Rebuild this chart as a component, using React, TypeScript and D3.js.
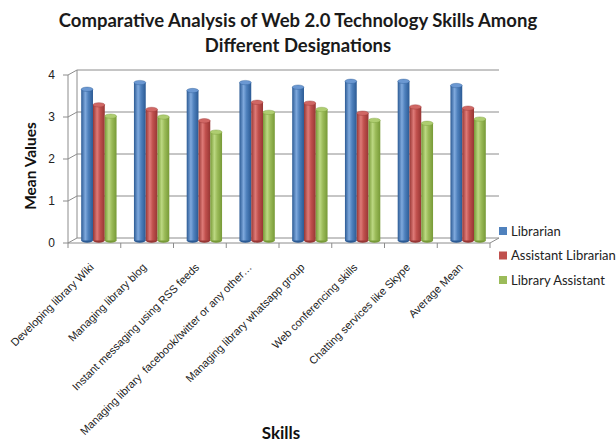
import React from 'react';
import * as d3 from 'd3';

const skills = [
  'Developing library Wiki',
  'Managing library blog',
  'Instant messaging using RSS feeds',
  'Managing library  facebook/twitter or any other…',
  'Managing library whatsapp group',
  'Web conferencing skills',
  'Chatting services like Skype',
  'Average Mean',
];
const seriesNames = ['Librarian', 'Assistant Librarian', 'Library Assistant'];
const librarian = [3.6, 3.76, 3.57, 3.76, 3.65, 3.79, 3.79, 3.69];
const assistantLibrarian = [3.23, 3.12, 2.85, 3.29, 3.27, 3.03, 3.18, 3.15];
const libraryAssistant = [2.96, 2.94, 2.58, 3.05, 3.12, 2.86, 2.79, 2.89];
const yTicks = [0, 1, 2, 3, 4];

const values = [librarian, assistantLibrarian, libraryAssistant];
// base, dark edge, light highlight, top
const palettes = [
  { id: 'gBlue', base: '#4F81BD', dark: '#2b5a94', light: '#7fa9dd', top: '#6b98d2' },
  { id: 'gRed', base: '#C0504D', dark: '#973634', light: '#de7a77', top: '#d06764' },
  { id: 'gGreen', base: '#9BBB59', dark: '#779a37', light: '#bcd882', top: '#aecd70' },
];

const W = 616;
const H = 445;
const x0 = 68;
const x1 = 490;
const yBase = 243;
const yTop = 75;
const dx = 9;
const dy = -5;
const font = 'Lato, "Open Sans", sans-serif';
const axisFont = '"Liberation Sans", Arial, sans-serif';

const App: React.FC = () => {
  const x = d3.scaleBand<string>().domain(skills).range([x0, x1]).paddingInner(0.33).paddingOuter(0.165);
  const xs = d3.scaleBand<number>().domain([0, 1, 2]).range([0, x.bandwidth()]);
  const y = d3.scaleLinear().domain([0, 4]).range([yBase, yTop]);
  const step = (x1 - x0) / skills.length;
  const bw = xs.bandwidth();
  const ry = 2.2;

  return (
    <div style={{ position: 'absolute', left: 0, top: 0 }}>
      <svg width={W} height={H} style={{ display: 'block', background: '#fff' }}>
        <defs>
          {palettes.map((p) => (
            <linearGradient key={p.id} id={p.id} x1="0" x2="1" y1="0" y2="0">
              <stop offset="0" stopColor={p.dark} />
              <stop offset="0.35" stopColor={p.light} />
              <stop offset="0.6" stopColor={p.base} />
              <stop offset="1" stopColor={p.dark} />
            </linearGradient>
          ))}
        </defs>

        {/* title */}
        <text x={298} y={27} textAnchor="middle" fontFamily={font} fontWeight="bold" fontSize={18.5} fill="#1a1a1a">
          Comparative Analysis of Web 2.0 Technology Skills Among
        </text>
        <text x={298} y={52} textAnchor="middle" fontFamily={font} fontWeight="bold" fontSize={18.5} fill="#1a1a1a">
          Different Designations
        </text>

        {/* back wall gridlines and left wall */}
        {yTicks.map((t) => (
          <g key={t} stroke="#8c8c8c" strokeWidth={1} fill="none">
            <line x1={x0 + dx} x2={x1 + dx} y1={y(t) + dy} y2={y(t) + dy} />
            <line x1={x0} x2={x0 + dx} y1={y(t)} y2={y(t) + dy} />
            <line x1={x0 - 5} x2={x0} y1={y(t)} y2={y(t)} />
          </g>
        ))}
        <line x1={x0 + dx} x2={x0 + dx} y1={y(0) + dy} y2={y(4) + dy} stroke="#8c8c8c" />
        <line x1={x0} x2={x0} y1={y(0)} y2={y(4)} stroke="#8c8c8c" />
        {/* floor */}
        <line x1={x0} x2={x1} y1={yBase} y2={yBase} stroke="#8c8c8c" />
        <line x1={x1} x2={x1 + dx} y1={yBase} y2={yBase + dy} stroke="#8c8c8c" />
        {d3.range(skills.length + 1).map((i) => (
          <line key={i} x1={x0 + i * step} x2={x0 + i * step} y1={yBase} y2={yBase + 5} stroke="#8c8c8c" />
        ))}

        {/* y tick labels */}
        {yTicks.map((t) => (
          <text key={t} x={55} y={y(t) + 4} textAnchor="end" fontFamily={axisFont} fontSize={12} fill="#222">
            {t}
          </text>
        ))}

        {/* cylinders */}
        {skills.map((s, i) => (
          <g key={s}>
            {values.map((vals, k) => {
              const p = palettes[k];
              const bx = (x(s) ?? 0) + xs(k)! + dx / 2;
              const top = y(vals[i]) + dy / 2;
              const bot = yBase + dy / 2;
              return (
                <g key={k}>
                  <ellipse cx={bx + bw / 2} cy={bot} rx={bw / 2} ry={ry} fill={p.dark} />
                  <rect x={bx} y={top} width={bw} height={bot - top} fill={`url(#${p.id})`} />
                  <ellipse cx={bx + bw / 2} cy={top} rx={bw / 2} ry={ry} fill={p.top} stroke={p.dark} strokeWidth={0.4} />
                </g>
              );
            })}
          </g>
        ))}

        {/* category labels */}
        {skills.map((s) => {
          const cx = (x(s) ?? 0) + x.bandwidth() / 2;
          const cy = 268;
          return (
            <text
              key={s}
              transform={`translate(${cx},${cy}) rotate(-45)`}
              textAnchor="end"
              fontFamily={axisFont}
              fontSize={11}
              fill="#222"
              style={{ whiteSpace: 'pre' }}
            >
              {s}
            </text>
          );
        })}

        {/* axis titles */}
        <text
          transform="translate(36,166) rotate(-90)"
          textAnchor="middle"
          fontFamily={font}
          fontWeight="bold"
          fontSize={15.5}
          fill="#111"
        >
          Mean Values
        </text>
        <text x={281} y={439} textAnchor="middle" fontFamily={font} fontWeight="bold" fontSize={17} fill="#111">
          Skills
        </text>

        {/* legend */}
        {seriesNames.map((n, k) => (
          <g key={n} transform={`translate(499,${231 + k * 24.5})`}>
            <rect x={0} y={-4} width={8} height={8} fill={palettes[k].base} />
            <text x={12} y={4.5} fontFamily={font} fontSize={13} fill="#222">
              {n}
            </text>
          </g>
        ))}
      </svg>
    </div>
  );
};

export default App;
